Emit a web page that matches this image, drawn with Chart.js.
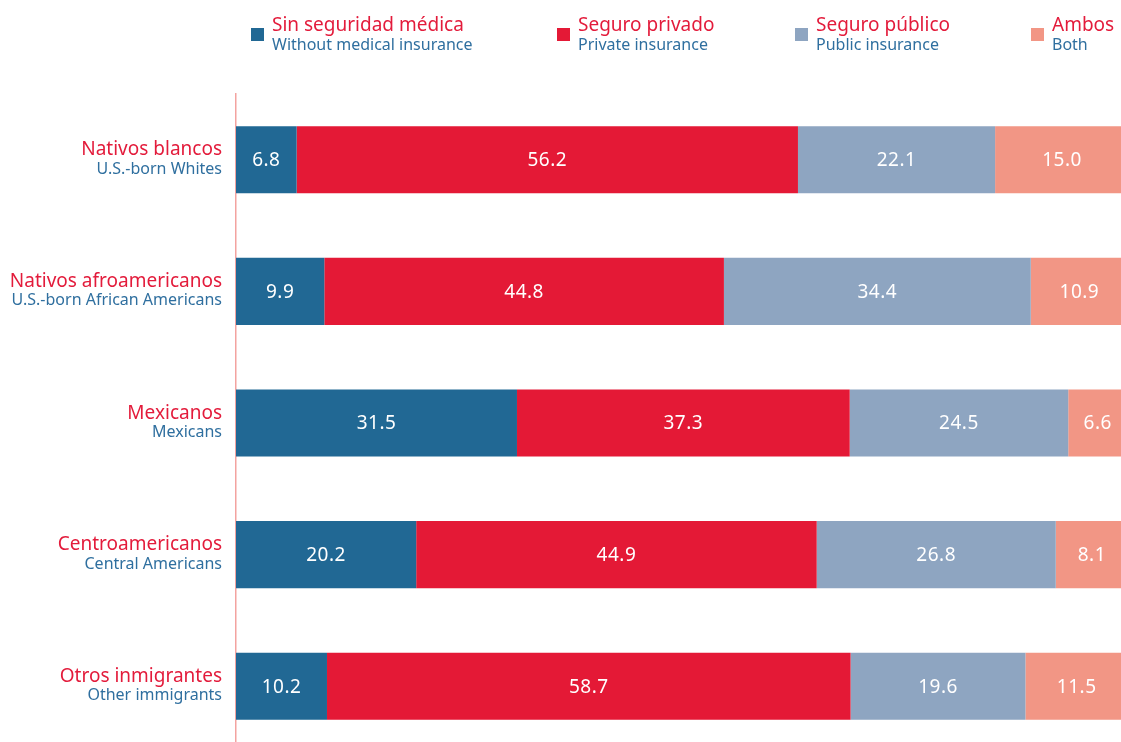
<!DOCTYPE html>
<html>
<head>
<meta charset="utf-8">
<script src="https://cdn.jsdelivr.net/npm/chart.js@4.4.1/dist/chart.umd.min.js"></script>
<style>
  html, body { margin: 0; padding: 0; overflow: hidden; background: #fff; }
  canvas { display: block; }
</style>
</head>
<body>
<canvas id="coverage-chart" width="1128" height="752"></canvas>
<script>
// groups (spanish / english)
const groupsEs = ['Nativos blancos', 'Nativos afroamericanos', 'Mexicanos', 'Centroamericanos', 'Otros inmigrantes'];
const groupsEn = ['U.S.-born Whites', 'U.S.-born African Americans', 'Mexicans', 'Central Americans', 'Other immigrants'];

// series, percent
const withoutInsurance = [6.8, 9.9, 31.5, 20.2, 10.2];
const privateInsurance = [56.2, 44.8, 37.3, 44.9, 58.7];
const publicInsurance = [22.1, 34.4, 24.5, 26.8, 19.6];
const bothInsurance = [15.0, 10.9, 6.6, 8.1, 11.5];

const seriesEs = ['Sin seguridad médica', 'Seguro privado', 'Seguro público', 'Ambos'];
const seriesEn = ['Without medical insurance', 'Private insurance', 'Public insurance', 'Both'];

const RED_TEXT = '#e31b3b';
const BLUE_TEXT = '#2f6f9f';
const FONT = '"Noto Sans", "Open Sans", sans-serif';

// legend item x positions (layout only)
const legendX = [251, 557, 795, 1031];

const textPlugin = {
  id: 'textPlugin',
  afterDatasetsDraw(chart) {
    const { ctx } = chart;
    ctx.save();
    ctx.font = '19px ' + FONT;
    ctx.letterSpacing = '0.5px';
    ctx.fillStyle = '#ffffff';
    ctx.textAlign = 'center';
    ctx.textBaseline = 'middle';
    chart.data.datasets.forEach((ds, i) => {
      chart.getDatasetMeta(i).data.forEach((bar, j) => {
        ctx.fillText(ds.data[j].toFixed(1), (bar.x + bar.base) / 2, bar.y + 1);
      });
    });
    ctx.restore();
  },
  afterDraw(chart) {
    const { ctx } = chart;
    const yScale = chart.scales.y;
    ctx.save();
    ctx.textAlign = 'right';
    ctx.textBaseline = 'alphabetic';
    groupsEs.forEach((g, j) => {
      const py = yScale.getPixelForValue(j);
      ctx.font = '19px ' + FONT;
      ctx.fillStyle = RED_TEXT;
      ctx.fillText(g, 222, py - 4.5);
      ctx.font = '16px ' + FONT;
      ctx.fillStyle = BLUE_TEXT;
      ctx.fillText(groupsEn[j], 222, py + 14);
    });

    // legend
    ctx.textAlign = 'left';
    chart.data.datasets.forEach((ds, i) => {
      const x = legendX[i];
      ctx.fillStyle = ds.backgroundColor;
      ctx.fillRect(x, 28, 13, 13);
      ctx.font = '19px ' + FONT;
      ctx.fillStyle = RED_TEXT;
      ctx.fillText(seriesEs[i], x + 21, 31);
      ctx.font = '16px ' + FONT;
      ctx.fillStyle = BLUE_TEXT;
      ctx.fillText(seriesEn[i], x + 21, 49.5);
    });
    ctx.restore();
  }
};

const ctx = document.getElementById('coverage-chart');
new Chart(ctx, {
  type: 'bar',
  data: {
    labels: groupsEn,
    datasets: [
      { label: seriesEn[0], data: withoutInsurance, backgroundColor: '#216894' },
      { label: seriesEn[1], data: privateInsurance, backgroundColor: '#e41936' },
      { label: seriesEn[2], data: publicInsurance, backgroundColor: '#8ea5c1' },
      { label: seriesEn[3], data: bothInsurance, backgroundColor: '#f29685' }
    ]
  },
  options: {
    indexAxis: 'y',
    responsive: false,
    animation: false,
    layout: { padding: { top: 94, right: 0, bottom: 0, left: 0 } },
    datasets: {
      bar: { categoryPercentage: 1, barPercentage: 0.51, borderWidth: 0 }
    },
    scales: {
      x: {
        stacked: true,
        min: 0,
        max: 100,
        display: false
      },
      y: {
        stacked: true,
        grid: { display: false, drawTicks: false },
        border: { display: true, color: '#f3a3a0', width: 1.5 },
        ticks: { display: false },
        afterFit: (scale) => { scale.width = 236; }
      }
    },
    plugins: {
      legend: { display: false },
      tooltip: { enabled: false }
    }
  },
  plugins: [textPlugin]
});
</script>
</body>
</html>
